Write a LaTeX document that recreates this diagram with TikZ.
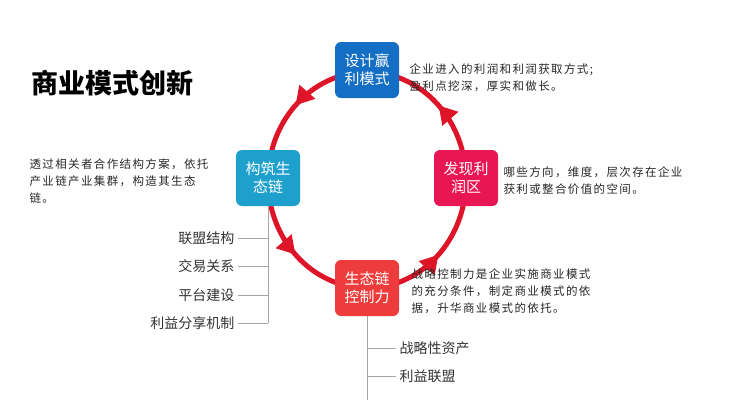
\documentclass[tikz,border=0pt]{standalone}
\usepackage{fontspec}
\setmainfont{Noto Sans CJK SC}
\usetikzlibrary{arrows.meta,decorations.markings}
\definecolor{ringred}{RGB}{222,20,40}
\definecolor{boxblue}{RGB}{20,110,195}
\definecolor{boxteal}{RGB}{30,160,205}
\definecolor{boxpink}{RGB}{232,22,82}
\definecolor{boxred}{RGB}{238,60,60}
\tikzset{
  stagebox/.style={rounded corners=6pt,text=white,minimum width=64pt,minimum height=56pt,
    align=center,font=\fontsize{15}{18}\selectfont},
  note/.style={anchor=north west,align=left,font=\fontsize{11.5}{17}\selectfont\addfontfeature{LetterSpace=12},text=black!85},
  item/.style={font=\fontsize{14}{16}\selectfont,text=black!80},
  twig/.style={draw=black!35,line width=0.6pt},
  ring/.style={draw=ringred,line width=5pt,
    postaction={decorate,decoration={markings,mark=at position 0.5 with {\arrow{Triangle[length=18pt,width=20pt]}}}}}
}
\begin{document}
\begin{tikzpicture}[x=1pt,y=-1pt]
\useasboundingbox (0,0) rectangle (735,400);
% ring arcs, counterclockwise on the page
\draw[ring] (367,72) arc[start angle=-90,end angle=-180,x radius=99,y radius=108];
\draw[ring] (268,180) arc[start angle=180,end angle=90,x radius=99,y radius=108];
\draw[ring] (367,288) arc[start angle=90,end angle=0,x radius=99,y radius=108];
\draw[ring] (466,180) arc[start angle=0,end angle=-90,x radius=99,y radius=108];
% stages
\node[stagebox,fill=boxblue] (design) at (367,70) {设计赢\\利模式};
\node[stagebox,fill=boxteal] (build) at (268,178) {构筑生\\态链};
\node[stagebox,fill=boxpink] (find) at (466,178) {发现利\\润区};
\node[stagebox,fill=boxred] (control) at (367,288) {生态链\\控制力};
% title
\node[anchor=west,font=\fontsize{27}{30}\selectfont\bfseries] (title) at (28,83) {商业模式创新};
% notes
\node[note] (ndesign) at (406,60) {企业进入的利润和利润获取方式;\\盈利点挖深，厚实和做长。};
\node[note] (nfind) at (500,163) {哪些方向，维度，层次存在企业\\获利或整合价值的空间。};
\node[note] (ncontrol) at (408,265) {战略控制力是企业实施商业模式\\的充分条件，制定商业模式的依\\据，升华商业模式的依托。};
\node[note] (nbuild) at (26,155) {透过相关者合作结构方案，依托\\产业链产业集群，构造其生态\\链。};
% left list
\coordinate (lstem) at (268,206);
\foreach \t [count=\i] in {联盟结构,交易关系,平台建设,利益分享机制}{
  \node[item,anchor=east] (l\i) at (238,{238+28.5*(\i-1)}) {\t};
  \draw[twig] (l\i.east) -- (268,{238+28.5*(\i-1)});
}
\draw[twig] (lstem) -- (268,323);
% bottom list
\coordinate (bstem) at (367,316);
\foreach \t [count=\i] in {战略性资产,利益联盟}{
  \node[item,anchor=west] (b\i) at (396,{348+28*(\i-1)}) {\t};
  \draw[twig] (367,{348+28*(\i-1)}) -- (b\i.west);
}
\draw[twig] (bstem) -- (367,400);
\end{tikzpicture}
\end{document}
